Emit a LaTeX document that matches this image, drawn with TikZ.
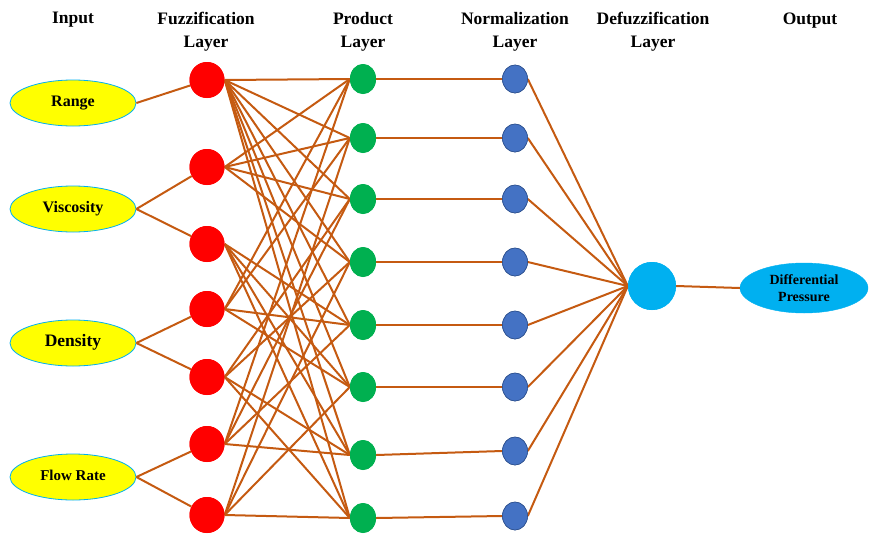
\documentclass[tikz,border=0pt]{standalone}
\usepackage{fontspec}
\setmainfont{Liberation Serif}
\usetikzlibrary{shapes.geometric}
\definecolor{edgec}{HTML}{C55A11}
\definecolor{inyellow}{HTML}{FFFF00}
\definecolor{skyb}{HTML}{00B0F0}
\definecolor{fred}{HTML}{FF0000}
\definecolor{pgreen}{HTML}{00B050}
\definecolor{nblue}{HTML}{4472C4}
\definecolor{nblueline}{HTML}{2F528F}
\tikzset{
  inbox/.style={ellipse, draw=skyb, line width=0.8pt, fill=inyellow, minimum width=126pt, minimum height=46pt, inner sep=0pt, font=\bfseries},
  outbox/.style={ellipse, draw=skyb, fill=skyb, minimum width=128pt, minimum height=50pt, inner sep=0pt, font=\bfseries\fontsize{14}{17}\selectfont, align=center},
  fuzz/.style={ellipse, fill=fred, minimum width=35pt, minimum height=36pt, inner sep=0pt},
  prod/.style={ellipse, fill=pgreen, minimum width=26pt, minimum height=30pt, inner sep=0pt},
  norm/.style={ellipse, draw=nblueline, line width=0.6pt, fill=nblue, minimum width=25pt, minimum height=28pt, inner sep=0pt},
  defz/.style={ellipse, fill=skyb, minimum width=48pt, minimum height=48pt, inner sep=0pt},
  head/.style={font=\bfseries\fontsize{17.5}{23}\selectfont, align=center, anchor=north},
  lbl/.style={text height=0.7em, text depth=0pt},
  edge/.style={draw=edgec, line width=2pt},
}
\begin{document}
\begin{tikzpicture}[x=1pt,y=-1pt]
\useasboundingbox (0,0) rectangle (870,533);
% headers
\node[head] (h1) at (73,9) {Input};
\node[head] (h2) at (206,9) {Fuzzification\\Layer};
\node[head] (h3) at (363,9) {Product\\Layer};
\node[head] (h4) at (515,9) {Normalization\\Layer};
\node[head] (h5) at (653,9) {Defuzzification\\Layer};
\node[head] (h6) at (810,9) {Output};
% inputs
\node[inbox, lbl, font=\bfseries\fontsize{16}{18}\selectfont] (i1) at (73,103) {Range};
\node[inbox, lbl, font=\bfseries\fontsize{16}{18}\selectfont] (i2) at (73,209) {Viscosity};
\node[inbox, lbl, font=\bfseries\fontsize{17.5}{20}\selectfont] (i3) at (73,343) {Density};
\node[inbox, lbl, font=\bfseries\fontsize{15}{17}\selectfont] (i4) at (73,477) {Flow Rate};
% fuzzification
\foreach \n/\y in {1/80,2/167,3/244,4/309,5/377,6/444,7/515}
  \node[fuzz] (f\n) at (207,\y) {};
% product and normalization
\foreach \n/\y/\z in {1/79/79,2/138/138,3/199/199,4/262/262,5/325/325,6/387/387,7/455/451,8/518/516}{
  \node[prod] (p\n) at (363,\y) {};
  \node[norm] (n\n) at (515,\z) {};
}
\node[defz] (d) at (652,286) {};
\node[outbox] (o) at (804,288) {Differential\\Pressure};
% edges input -> fuzz
\draw[edge] (i1.east) -- (f1);
\draw[edge] (i2.east) -- (f2);
\draw[edge] (i2.east) -- (f3);
\draw[edge] (i3.east) -- (f4);
\draw[edge] (i3.east) -- (f5);
\draw[edge] (i4.east) -- (f6);
\draw[edge] (i4.east) -- (f7);
% fuzz -> product
\foreach \k in {1,...,8} \draw[edge] (f1.east) -- (p\k.west);
\foreach \k in {1,2,3,4} \draw[edge] (f2.east) -- (p\k.west);
\foreach \k in {5,6,7,8} \draw[edge] (f3.east) -- (p\k.west);
\foreach \k in {1,2,5,6} \draw[edge] (f4.east) -- (p\k.west);
\foreach \k in {3,4,7,8} \draw[edge] (f5.east) -- (p\k.west);
\foreach \k in {1,3,5,7} \draw[edge] (f6.east) -- (p\k.west);
\foreach \k in {2,4,6,8} \draw[edge] (f7.east) -- (p\k.west);
% product -> norm, norm -> defuzz
\foreach \k in {1,...,8}{
  \draw[edge] (p\k.east) -- (n\k.west);
  \draw[edge] (n\k.east) -- (d.west);
}
\draw[edge] (d.east) -- (o.west);
% redraw nodes on top
\foreach \n/\y in {1/80,2/167,3/244,4/309,5/377,6/444,7/515}
  \node[fuzz] at (207,\y) {};
\foreach \n/\y/\z in {1/79/79,2/138/138,3/199/199,4/262/262,5/325/325,6/387/387,7/455/451,8/518/516}{
  \node[prod] at (363,\y) {};
  \node[norm] at (515,\z) {};
}
\node[defz] at (652,286) {};
\end{tikzpicture}
\end{document}
